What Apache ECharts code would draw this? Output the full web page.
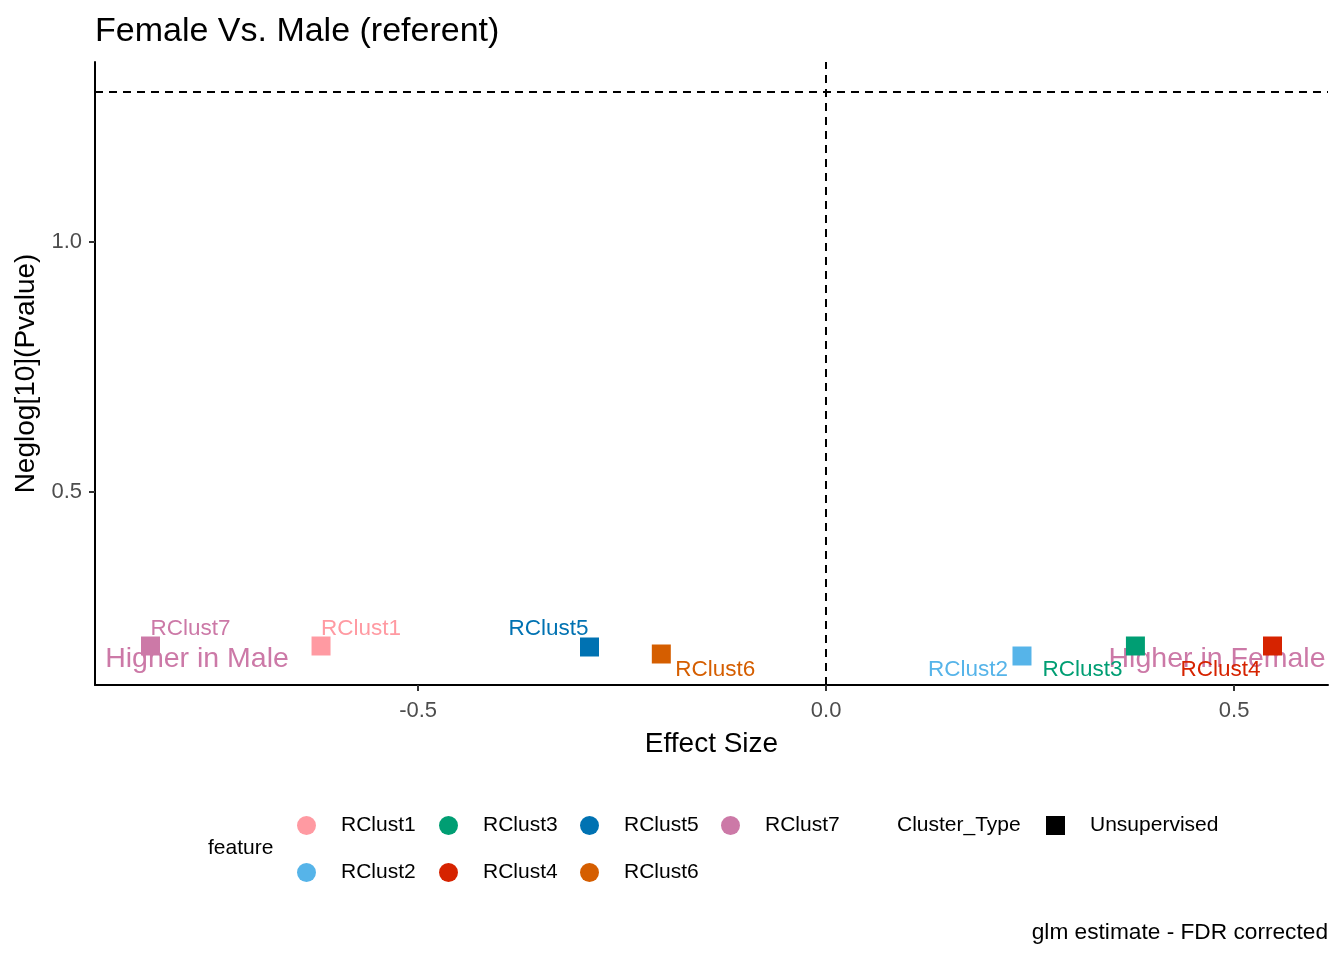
<!DOCTYPE html>
<html lang="en">
<head>
<meta charset="utf-8" />
<title>Female Vs. Male (referent)</title>
<script src="https://cdn.jsdelivr.net/npm/echarts@6/dist/echarts.min.js"></script>
<style>
  html, body { margin: 0; padding: 0; background: #fff; }
  #chart { width: 1344px; height: 960px; }
</style>
</head>
<body>
<div id="chart"></div>
<script type="text/javascript">
// data
var features = ['RClust1', 'RClust2', 'RClust3', 'RClust4', 'RClust5', 'RClust6', 'RClust7'];
var effectSize = [-0.619, 0.240, 0.379, 0.547, -0.290, -0.202, -0.828];
var neglogP = [0.192, 0.172, 0.192, 0.192, 0.190, 0.176, 0.192];
var featureColors = ['#FF9AA2', '#56B4E9', '#009E73', '#D62300', '#0072B2', '#D55E00', '#CC79A7'];
// label nudges (pixels) like ggrepel put them
var labelOffsets = [[40, -17], [-54, 14], [-53, 24], [-52, 24], [-41, -18], [54, 16], [40, -17]];
var directionText = ['Higher in Male', 'Higher in Female'];
var directionX = [-0.771, 0.479];
var directionY = [0.166, 0.166];
var xTicks = [-0.5, 0, 0.5];
var yTicks = [0.5, 1.0];
var pThreshold = 1.301;

var FONT = '"Liberation Sans", Arial, sans-serif';
var chart = echarts.init(document.getElementById('chart'));

var series = [];
// direction annotations, drawn under the squares
series.push({
    name: 'direction',
    type: 'scatter',
    symbolSize: 0,
    z: 1,
    silent: true,
    itemStyle: { opacity: 1 },
    data: directionText.map(function (t, i) { return { name: t, value: [directionX[i], directionY[i]] }; }),
    label: {
        show: true, position: 'inside', formatter: '{b}',
        color: '#CC79A7', fontSize: 28.5, fontFamily: FONT
    }
});
features.forEach(function (f, i) {
    series.push({
        name: f,
        type: 'scatter',
        symbol: 'rect',
        symbolSize: 19,
        z: 3,
        itemStyle: { color: featureColors[i], opacity: 1 },
        data: [[effectSize[i], neglogP[i]]],
        label: {
            show: true, position: 'inside', formatter: f,
            offset: labelOffsets[i],
            color: featureColors[i], fontSize: 22.5, fontFamily: FONT
        }
    });
});
// reference lines
series[0].markLine = {
    silent: true,
    symbol: 'none',
    label: { show: false },
    lineStyle: { color: '#000', type: [8, 6], width: 2, opacity: 1 },
    data: [{ xAxis: 0 }, { yAxis: pThreshold }]
};
// dummy series for the Cluster_Type legend
series.push({
    name: 'Unsupervised',
    type: 'scatter',
    symbol: 'rect',
    itemStyle: { color: '#000', opacity: 1 },
    data: []
});

var legendText = { color: '#000', fontSize: 21, fontFamily: FONT, lineHeight: 19, padding: [0, 0, 0, 20] };
var colX = [297, 439, 580, 721];
var legendCols = [['RClust1', 'RClust2'], ['RClust3', 'RClust4'], ['RClust5', 'RClust6'], ['RClust7']];
var legends = legendCols.map(function (names, c) {
    return {
        orient: 'vertical',
        left: colX[c], top: 815,
        itemWidth: 19, itemHeight: 19, itemGap: 26,
        padding: 0,
        selectedMode: false,
        data: names.map(function (n) { return { name: n, icon: 'circle', itemStyle: { opacity: 1 } }; }),
        textStyle: legendText
    };
});
legends.push({
    orient: 'vertical',
    left: 1046, top: 815,
    itemWidth: 19, itemHeight: 19,
    padding: 0,
    selectedMode: false,
    data: [{ name: 'Unsupervised', icon: 'rect', itemStyle: { opacity: 1 } }],
    textStyle: legendText
});

var option = {
    animation: false,
    backgroundColor: '#fff',
    textStyle: { fontFamily: FONT },
    title: {
        text: 'Female Vs. Male (referent)',
        left: 95, top: 15, padding: 0,
        textStyle: { color: '#000', fontSize: 34, fontWeight: 'normal', fontFamily: FONT }
    },
    grid: { left: 95, right: 16, top: 62, bottom: 275 },
    xAxis: {
        type: 'value',
        min: -0.896, max: 0.615,
        name: 'Effect Size',
        nameLocation: 'middle', nameGap: 45,
        nameTextStyle: { color: '#000', fontSize: 28, fontFamily: FONT },
        splitLine: { show: false },
        axisLine: { onZero: false, lineStyle: { color: '#000', width: 2 } },
        axisTick: { show: true, customValues: xTicks, length: 6, lineStyle: { color: '#333', width: 2 } },
        axisLabel: {
            customValues: xTicks, margin: 15,
            color: '#4D4D4D', fontSize: 22, fontFamily: FONT,
            formatter: function (v) { return v.toFixed(1); }
        }
    },
    yAxis: {
        type: 'value',
        min: 0.114, max: 1.36,
        name: 'Neglog[10](Pvalue)',
        nameLocation: 'middle', nameGap: 53, nameRotate: 90,
        nameTextStyle: { color: '#000', fontSize: 28, fontFamily: FONT },
        splitLine: { show: false },
        axisLine: { show: true, onZero: false, lineStyle: { color: '#000', width: 2 } },
        axisTick: { show: true, customValues: yTicks, length: 6, lineStyle: { color: '#333', width: 2 } },
        axisLabel: {
            customValues: yTicks, margin: 13,
            color: '#4D4D4D', fontSize: 22, fontFamily: FONT,
            formatter: function (v) { return v.toFixed(1); }
        }
    },
    legend: legends,
    graphic: [
        { type: 'text', left: 208, top: 838, style: { text: 'feature', fill: '#000', font: '21px ' + FONT } },
        { type: 'text', left: 897, top: 815, style: { text: 'Cluster_Type', fill: '#000', font: '21px ' + FONT } },
        { type: 'text', right: 16, top: 921, style: { text: 'glm estimate - FDR corrected', fill: '#000', font: '22.7px ' + FONT } }
    ],
    series: series
};
chart.setOption(option);
</script>
</body>
</html>
